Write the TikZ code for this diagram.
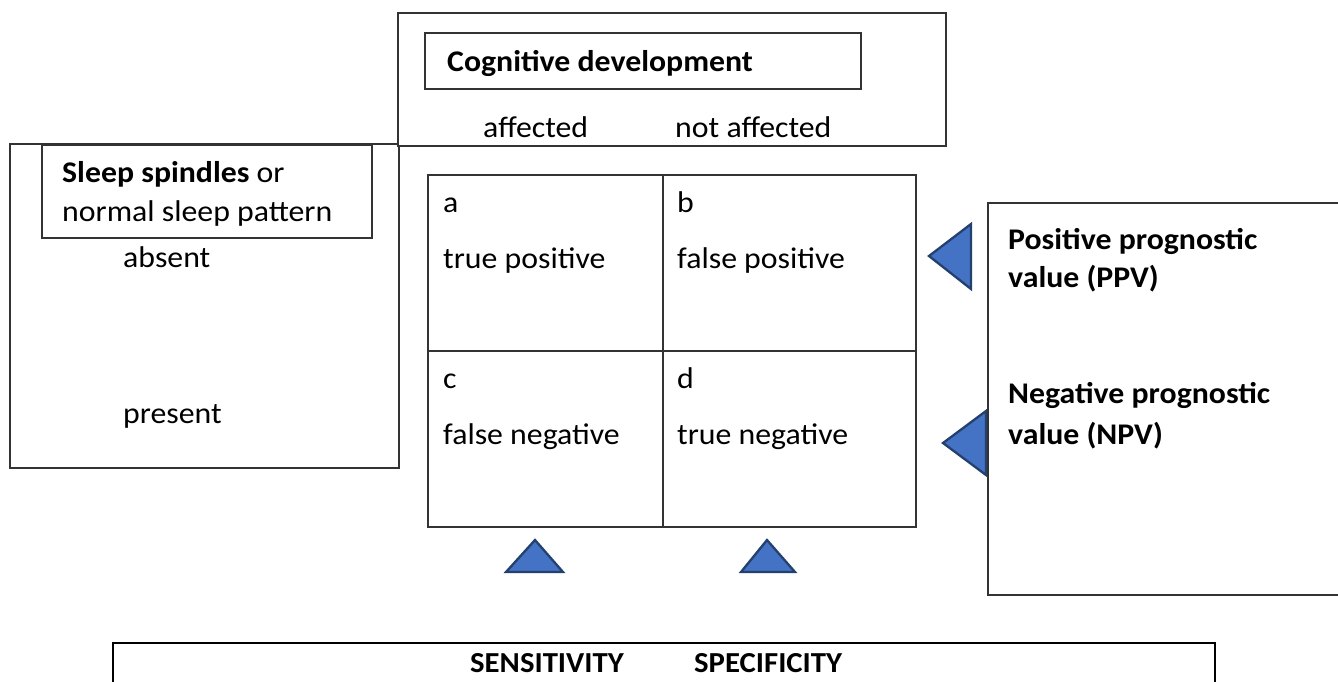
\documentclass[tikz,border=0pt]{standalone}
\usepackage{fontspec}
\setmainfont[FakeStretch=1.06]{Carlito}
\definecolor{trifill}{HTML}{4472C4}
\definecolor{triedge}{HTML}{24406E}
\definecolor{linecol}{HTML}{333333}
\begin{document}
\begin{tikzpicture}[x=1pt,y=-1pt,
  box/.style={draw=linecol,line width=1.5pt,fill=white,anchor=north west,inner sep=0pt},
  txt/.style={anchor=base west,inner sep=0pt,font=\fontsize{30}{36}\selectfont},
  btxt/.style={anchor=base west,inner sep=0pt,font=\fontsize{30}{36}\selectfont\bfseries},
  tri/.style={fill=trifill,draw=triedge,line width=2.3pt,line join=miter}]
\useasboundingbox[fill=white] (0,0) rectangle (1338,681);

% left box
\node[box,minimum width=389pt,minimum height=324pt] (leftbox) at (9,143) {};
\node[box,minimum width=330pt,minimum height=93pt] (sleepbox) at (41,144) {};
\node[txt] (sleep1) at (62,182) {\textbf{Sleep spindles} or};
\node[txt] (sleep2) at (62,221) {normal sleep pattern};
\node[txt] (absent) at (123,267) {absent};
\node[txt] (present) at (123,423) {present};

% top box
\node[box,minimum width=548pt,minimum height=133pt] (topbox) at (397,12) {};
\node[box,minimum width=436pt,minimum height=56pt] (cogbox) at (424,32) {};
\node[btxt] (cog) at (447,71) {Cognitive development};
\node[txt] (aff) at (483,137) {affected};
\node[txt] (naff) at (675,137) {not affected};

% grid
\node[box,minimum width=235pt,minimum height=176pt] (cellA) at (427,174) {};
\node[box,minimum width=253pt,minimum height=176pt] (cellB) at (662,174) {};
\node[box,minimum width=235pt,minimum height=176pt] (cellC) at (427,350) {};
\node[box,minimum width=253pt,minimum height=176pt] (cellD) at (662,350) {};
\node[txt] (la) at (443,212) {a};
\node[txt] (ta) at (443,268) {true positive};
\node[txt] (lb) at (677,212) {b};
\node[txt] (tb) at (677,268) {false positive};
\node[txt] (lc) at (443,388) {c};
\node[txt] (tc) at (443,444) {false negative};
\node[txt] (ld) at (677,388) {d};
\node[txt] (td) at (677,444) {true negative};

% triangles
\draw[tri] (929,256) -- (971,224) -- (971,289) -- cycle;
\draw[tri] (943,443) -- (986,411) -- (986,475) -- cycle;
\draw[tri] (535,540) -- (563,572) -- (506,572) -- cycle;
\draw[tri] (767,540) -- (795,572) -- (741,572) -- cycle;

% right box
\node[box,minimum width=370pt,minimum height=392pt] (rightbox) at (987,202) {};
\node[btxt] (ppv1) at (1008,249) {Positive prognostic};
\node[btxt] (ppv2) at (1008,287) {value (PPV)};
\node[btxt] (npv1) at (1008,403) {Negative prognostic};
\node[btxt] (npv2) at (1008,444) {value (NPV)};

% bottom box
\node[box,draw=black,line width=2.2pt,minimum width=1102pt,minimum height=60pt] (bottombox) at (112,642) {};
\node[anchor=base west,inner sep=0pt,font=\fontsize{29}{36}\selectfont\bfseries] (sens) at (470,672) {SENSITIVITY};
\node[anchor=base west,inner sep=0pt,font=\fontsize{29}{36}\selectfont\bfseries] (spec) at (694,672) {SPECIFICITY};
\end{tikzpicture}
\end{document}
